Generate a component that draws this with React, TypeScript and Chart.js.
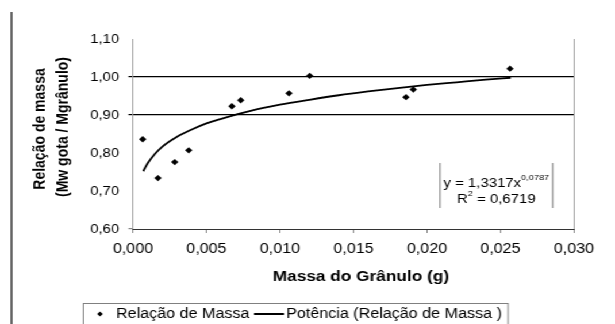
import React, { useEffect, useRef } from 'react';
import { Chart, registerables } from 'chart.js';

Chart.register(...registerables);

// ---- data ----
const massX = [0.00066, 0.0017, 0.00284, 0.00379, 0.00673, 0.00733, 0.01061, 0.01202, 0.01857, 0.01907, 0.02565];
const ratioY = [0.836, 0.734, 0.776, 0.807, 0.923, 0.939, 0.957, 1.003, 0.947, 0.967, 1.022];

const trendX = [0.0007, 0.001, 0.0015, 0.002, 0.003, 0.004, 0.005, 0.006, 0.008, 0.01, 0.012, 0.014, 0.016, 0.018, 0.02, 0.022, 0.024, 0.0257];
const trendY = [0.752, 0.773, 0.798, 0.817, 0.843, 0.862, 0.878, 0.89, 0.911, 0.927, 0.94, 0.952, 0.962, 0.971, 0.979, 0.986, 0.993, 0.998];

const xTickLabels = ['0,000', '0,005', '0,010', '0,015', '0,020', '0,025', '0,030'];
const yTickLabels = ['0,60', '0,70', '0,80', '0,90', '1,00', '1,10'];

const seriesName = 'Relação de Massa';
const trendName = 'Potência (Relação de Massa )';
const xTitle = 'Massa do Grânulo (g)';
const yTitle1 = 'Relação de massa';
const yTitle2 = '(Mw gota / Mgrânulo)';
const eqMain = 'y = 1,3317x';
const eqExp = '0,0787';
const r2Pre = 'R';
const r2Sup = '2';
const r2Post = ' = 0,6719';

const W = 535;
const H = 324;
const SX = 615 / W;
const FONT = '"Liberation Sans", Arial, sans-serif';

const isGrid = (v: number) => Math.abs(v - 0.9) < 1e-6 || Math.abs(v - 1.0) < 1e-6;

const decor = {
  id: 'decor',
  afterDraw(chart: any) {
    const ctx = chart.ctx as CanvasRenderingContext2D;
    const a = chart.chartArea;
    ctx.save();
    // right border of plot
    ctx.strokeStyle = '#a0a0a0';
    ctx.lineWidth = 1;
    ctx.beginPath();
    ctx.moveTo(Math.round(a.right) + 0.5, a.top);
    ctx.lineTo(Math.round(a.right) + 0.5, a.bottom);
    ctx.stroke();

    // outer left line
    ctx.strokeStyle = '#111';
    ctx.lineWidth = 1.3;
    ctx.beginPath();
    ctx.moveTo(10, 12);
    ctx.lineTo(10, H);
    ctx.stroke();

    ctx.fillStyle = '#000';
    // x title
    ctx.font = `bold 15px ${FONT}`;
    ctx.textAlign = 'center';
    ctx.textBaseline = 'middle';
    ctx.fillText(xTitle, 314, 277);

    // y title
    ctx.save();
    ctx.translate(34.8, 129);
    ctx.rotate(-Math.PI / 2);
    ctx.font = `bold 14px ${FONT}`;
    ctx.fillText(yTitle1, 0, 0);
    ctx.restore();
    ctx.save();
    ctx.translate(54.8, 127);
    ctx.rotate(-Math.PI / 2);
    ctx.font = `bold 14px ${FONT}`;
    ctx.fillText(yTitle2, 0, 0);
    ctx.restore();

    // equation box
    const cx = 431.8;
    ctx.strokeStyle = '#777';
    ctx.lineWidth = 1;
    ctx.beginPath();
    ctx.moveTo(382.8, 163);
    ctx.lineTo(382.8, 208);
    ctx.moveTo(480.8, 163);
    ctx.lineTo(480.8, 208);
    ctx.stroke();
    ctx.textAlign = 'left';
    ctx.textBaseline = 'alphabetic';
    ctx.font = `13px ${FONT}`;
    const w1 = ctx.measureText(eqMain).width;
    ctx.font = `8px ${FONT}`;
    const w2 = ctx.measureText(eqExp).width;
    let sx = cx - (w1 + w2) / 2;
    ctx.font = `13px ${FONT}`;
    ctx.fillText(eqMain, sx, 187);
    ctx.font = `8px ${FONT}`;
    ctx.fillText(eqExp, sx + w1, 180);

    ctx.font = `13px ${FONT}`;
    const r1 = ctx.measureText(r2Pre).width;
    const r3 = ctx.measureText(r2Post).width;
    ctx.font = `8px ${FONT}`;
    const r2 = ctx.measureText(r2Sup).width;
    sx = cx - (r1 + r2 + r3) / 2;
    ctx.font = `13px ${FONT}`;
    ctx.fillText(r2Pre, sx, 203);
    ctx.font = `8px ${FONT}`;
    ctx.fillText(r2Sup, sx + r1, 196);
    ctx.font = `13px ${FONT}`;
    ctx.fillText(r2Post, sx + r1 + r2, 203);

    // legend box
    ctx.strokeStyle = '#808080';
    ctx.lineWidth = 1;
    ctx.strokeRect(72.5, 303.5, 369.5, 40);
    // marker
    ctx.fillStyle = '#000';
    ctx.beginPath();
    ctx.moveTo(87, 311.5);
    ctx.lineTo(89.5, 314);
    ctx.lineTo(87, 316.5);
    ctx.lineTo(84.5, 314);
    ctx.closePath();
    ctx.fill();
    ctx.font = `14px ${FONT}`;
    ctx.textBaseline = 'middle';
    ctx.textAlign = 'left';
    ctx.fillText(seriesName, 101, 314);
    ctx.strokeStyle = '#000';
    ctx.lineWidth = 2;
    ctx.beginPath();
    ctx.moveTo(221, 314);
    ctx.lineTo(247, 314);
    ctx.stroke();
    ctx.fillText(trendName, 249, 314);
    ctx.restore();
  },
};

export default function App() {
  const ref = useRef<HTMLCanvasElement | null>(null);
  useEffect(() => {
    if (!ref.current) return;
    const chart = new Chart(ref.current, {
      type: 'scatter',
      data: {
        datasets: [
          {
            label: seriesName,
            data: massX.map((x, i) => ({ x, y: ratioY[i] })),
            pointStyle: 'rectRot',
            pointRadius: 3.2,
            pointBackgroundColor: '#000',
            pointBorderColor: '#000',
            pointBorderWidth: 0,
            showLine: false,
            order: 1,
          },
          {
            type: 'line',
            label: trendName,
            data: trendX.map((x, i) => ({ x, y: trendY[i] })),
            borderColor: '#000',
            borderWidth: 1.8,
            pointRadius: 0,
            showLine: true,
            fill: false,
            cubicInterpolationMode: 'monotone',
            order: 2,
          } as any,
        ],
      },
      options: {
        animation: false,
        responsive: false,
        devicePixelRatio: 1,
        layout: { padding: { left: 0, top: 39, right: W - 499.3, bottom: 0 } },
        plugins: { legend: { display: false }, tooltip: { enabled: false } },
        scales: {
          x: {
            type: 'linear',
            min: 0,
            max: 0.03,
            ticks: {
              stepSize: 0.005,
              padding: 8,
              color: '#000',
              font: { family: FONT, size: 14 },
              maxRotation: 0,
              callback: (_v: any, i: number) => xTickLabels[i],
            },
            grid: { color: 'transparent', tickColor: '#888', tickLength: 4, drawOnChartArea: false },
            border: { color: '#333', width: 1 },
            afterFit: (s: any) => {
              s.height = H - 229;
            },
          },
          y: {
            type: 'linear',
            min: 0.6,
            max: 1.1,
            ticks: {
              stepSize: 0.1,
              padding: 8,
              color: '#000',
              font: { family: FONT, size: 13 },
              callback: (_v: any, i: number) => yTickLabels[i],
            },
            grid: {
              color: (c: any) => (isGrid(c.tick?.value) ? '#000' : 'transparent'),
              tickColor: (c: any) =>
                isGrid(c.tick?.value) ? '#000' : Math.abs(c.tick?.value - 0.6) < 1e-6 ? '#888' : 'transparent',
              lineWidth: 1.2,
              tickLength: 4,
            },
            border: { color: '#a0a0a0', width: 1 },
            afterFit: (s: any) => {
              s.width = 115.7;
            },
          },
        },
      },
      plugins: [decor],
    } as any);
    return () => chart.destroy();
  }, []);
  return (
    <div
      style={{
        position: 'fixed',
        left: 0,
        top: 0,
        width: W,
        height: H,
        transform: `scaleX(${SX})`,
        transformOrigin: '0 0',
        background: '#fff',
      }}
    >
      <canvas ref={ref} width={W} height={H} style={{ width: W, height: H, display: 'block' }} />
    </div>
  );
}
